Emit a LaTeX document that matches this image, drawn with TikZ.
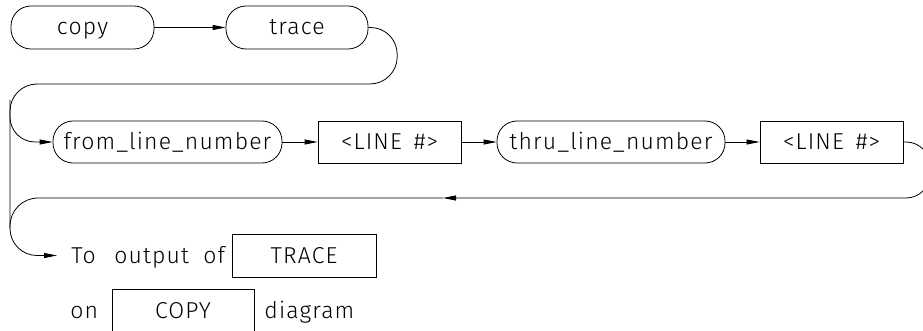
\documentclass[tikz,border=0pt]{standalone}
\usepackage{fontspec}
\setmainfont{Fira Sans Light}[LetterSpace=5]
\usetikzlibrary{arrows.meta}
\begin{document}
\begin{tikzpicture}[x=1pt, y=-1pt, line width=0.8pt,
  txt/.style={font=\fontsize{23}{27}\selectfont, text height=17pt, text depth=2pt, inner sep=0pt},
  keyword/.style={txt, draw, rounded corners=20pt, minimum height=43pt},
  param/.style={txt, draw, minimum height=42pt, minimum width=143pt},
  flow/.style={-{Triangle[length=13pt,width=5pt]}},
  rail/.style={rounded corners=27pt}]
\useasboundingbox (0,0) rectangle (923,331);

% first line: copy trace
\node[keyword, minimum width=143pt] (copy) at (82.5,27.5) {copy};
\node[keyword, minimum width=142pt] (trace) at (297,27.5) {trace};

% optional line range
\node[keyword, minimum width=229pt, minimum height=42pt] (from) at (167.5,142) {from\_line\_number};
\node[param] (line1) at (389.5,142) {<LINE\hspace{12pt}\#>};
\node[keyword, minimum width=228pt, minimum height=42pt] (thru) at (611,142) {thru\_line\_number};
\node[param] (line2) at (831.5,142) {<LINE\hspace{12pt}\#>};

% trailing note
\node[txt, anchor=west, inner xsep=14pt] (to) at (57,255.5) {To};
\node[txt, anchor=west] (output) at (114,255.5) {output};
\node[txt, anchor=west] (of) at (203,255.5) {of};
\node[txt, draw, minimum width=144pt, minimum height=43pt] (tracebox) at (304,255.5) {TRACE};
\node[txt, anchor=west] (on) at (70,310.5) {on};
\node[txt, draw, minimum width=142pt, minimum height=43pt] (copybox) at (183,310.5) {COPY};
\node[txt, anchor=west] (diagram) at (264,310.5) {diagram};

% connectors
\draw[flow] (copy) -- (trace);
\draw[flow] (from) -- (line1);
\draw[flow] (line1) -- (thru);
\draw[flow] (thru) -- (line2);

% main rail from trace down to the note
\draw[rail, flow] (trace.east) -- ++(29,0) -- (397,84) -- (10,84) -- (10,255.5) -- (to.west);
% branch into the line range
\draw[flow, rounded corners=25pt] (10,100) -- (10,142) -- (from.west);
% return path after the range
\coordinate (back) at (443,198);
\draw[flow, rounded corners=24pt] (line2.east) -- (930,142) -- (930,198) -- (back);
\draw[rounded corners=28pt] (back) -- (10,198) -- (10,228);
\end{tikzpicture}
\end{document}
